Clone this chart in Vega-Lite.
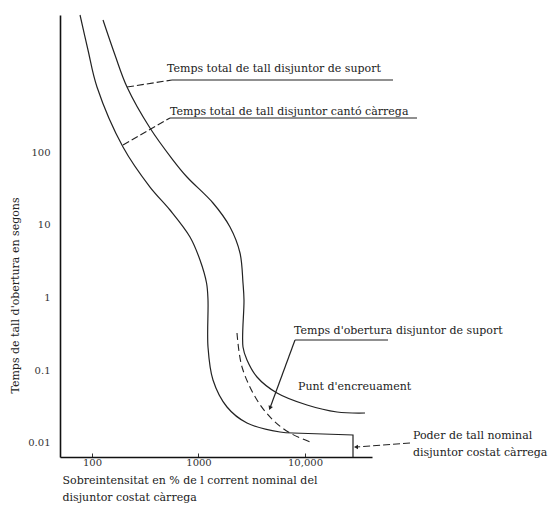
{
  "$schema": "https://vega.github.io/schema/vega-lite/v6.json",
  "width": 312,
  "height": 442,
  "autosize": {"type": "none"},
  "padding": {"left": 60, "top": 15, "right": 182, "bottom": 49},
  "background": "white",
  "config": {
    "view": {"stroke": null},
    "font": "DejaVu Serif",
    "axis": {"grid": false, "domainColor": "#111", "domainWidth": 1.6, "labelFont": "DejaVu Serif", "titleFont": "DejaVu Serif", "labelColor": "#333", "titleColor": "#222", "labelFontSize": 10, "titleFontSize": 11, "titleFontWeight": "normal"}
  },
  "datasets": {
    "curves": [
      {"series": "A", "i": 1, "x": 77.2, "y": 7642},
      {"series": "A", "i": 2, "x": 91.7, "y": 2524},
      {"series": "A", "i": 3, "x": 111.4, "y": 782.6},
      {"series": "A", "i": 4, "x": 195.5, "y": 117.1},
      {"series": "A", "i": 5, "x": 350.4, "y": 33.0},
      {"series": "A", "i": 6, "x": 540, "y": 15.95},
      {"series": "A", "i": 7, "x": 832, "y": 6.79},
      {"series": "A", "i": 8, "x": 1033, "y": 3.28},
      {"series": "A", "i": 9, "x": 1190, "y": 1.582},
      {"series": "A", "i": 10, "x": 1228, "y": 0.924},
      {"series": "A", "i": 11, "x": 1228, "y": 0.2088},
      {"series": "A", "i": 12, "x": 1368, "y": 0.0734},
      {"series": "A", "i": 13, "x": 1852, "y": 0.03125},
      {"series": "A", "i": 14, "x": 2853, "y": 0.01883},
      {"series": "A", "i": 15, "x": 5826, "y": 0.01416},
      {"series": "A", "i": 16, "x": 7716, "y": 0.01372},
      {"series": "A2", "i": 1, "x": 7716, "y": 0.01372},
      {"series": "A2", "i": 2, "x": 28230, "y": 0.01288},
      {"series": "A2", "i": 3, "x": 28230, "y": 0.00642},
      {"series": "B", "i": 1, "x": 126.9, "y": 6522},
      {"series": "B", "i": 2, "x": 164.4, "y": 2154},
      {"series": "B", "i": 3, "x": 213.2, "y": 782.6},
      {"series": "B", "i": 4, "x": 350.4, "y": 213.8},
      {"series": "B", "i": 5, "x": 576.2, "y": 77.6},
      {"series": "B", "i": 6, "x": 779.8, "y": 45.3},
      {"series": "B", "i": 7, "x": 1368, "y": 19.9},
      {"series": "B", "i": 8, "x": 1976, "y": 9.31},
      {"series": "B", "i": 9, "x": 2453, "y": 4.09},
      {"series": "B", "i": 10, "x": 2617, "y": 1.582},
      {"series": "B", "i": 11, "x": 2674, "y": 0.924},
      {"series": "B", "i": 12, "x": 2617, "y": 0.2088},
      {"series": "B", "i": 13, "x": 2853, "y": 0.1383},
      {"series": "B", "i": 14, "x": 3543, "y": 0.0808},
      {"series": "B", "i": 15, "x": 5459, "y": 0.0487},
      {"series": "B", "i": 16, "x": 10442, "y": 0.0333},
      {"series": "B", "i": 17, "x": 19980, "y": 0.02668},
      {"series": "B", "i": 18, "x": 36590, "y": 0.02585},
      {"series": "C", "i": 1, "x": 2299, "y": 0.325},
      {"series": "C", "i": 2, "x": 2562, "y": 0.1109},
      {"series": "C", "i": 3, "x": 3543, "y": 0.039},
      {"series": "C", "i": 4, "x": 5006, "y": 0.0207},
      {"series": "C", "i": 5, "x": 7233, "y": 0.01372},
      {"series": "C", "i": 6, "x": 11890, "y": 0.01},
      {"series": "L1d", "i": 1, "x": 213.2, "y": 782.6},
      {"series": "L1d", "i": 2, "x": 563.8, "y": 976.6},
      {"series": "L1u", "i": 1, "x": 563.8, "y": 976.6},
      {"series": "L1u", "i": 2, "x": 67050, "y": 976.6},
      {"series": "L2d", "i": 1, "x": 195.5, "y": 124.8},
      {"series": "L2d", "i": 2, "x": 540, "y": 293.4},
      {"series": "L2u", "i": 1, "x": 540, "y": 293.4},
      {"series": "L2u", "i": 2, "x": 112600, "y": 293.4},
      {"series": "L3u", "i": 1, "x": 8057, "y": 0.2605},
      {"series": "L3u", "i": 2, "x": 60170, "y": 0.2605},
      {"series": "L3l", "i": 1, "x": 8057, "y": 0.2605},
      {"series": "L3l", "i": 2, "x": 4692, "y": 0.03028},
      {"series": "L4", "i": 1, "x": 96800, "y": 0.01},
      {"series": "L4", "i": 2, "x": 30120, "y": 0.00881}
    ],
    "labels": [
      {"text": "Temps total de tall disjuntor de suport", "x": 506, "y": 1383},
      {"text": "Temps total de tall disjuntor cantó càrrega", "x": 540, "y": 354.6},
      {"text": "Temps d'obertura disjuntor de suport", "x": 7884, "y": 0.3463},
      {"text": "Punt d'encreuament", "x": 8598, "y": 0.05886},
      {"text": "Poder de tall nominal", "x": 103300, "y": 0.01248},
      {"text": "disjuntor costat càrrega", "x": 103300, "y": 0.00729}
    ],
    "arrowL3": [{"x": 4692, "y": 0.03028}],
    "arrowL4": [{"x": 30120, "y": 0.00881}]
  },
  "encoding": {
    "x": {"field": "x", "type": "quantitative", "scale": {"type": "log", "domain": [50.07, 42570], "nice": false},
      "axis": {"values": [100, 1000, 10000], "labelExpr": "datum.value == 10000 ? '10,000' : datum.value + ''", "tickSize": -4, "tickColor": "#333", "tickWidth": 1, "labelPadding": 4,
        "title": ["Sobreintensitat en % de l corrent nominal del", "disjuntor costat càrrega"], "titleAnchor": "start", "titleAlign": "left", "titleX": 2, "titleY": 17, "titleBaseline": "top", "titleLineHeight": 17}},
    "y": {"field": "y", "type": "quantitative", "scale": {"type": "log", "domain": [0.00642, 7642], "nice": false},
      "axis": {"values": [0.01, 0.1, 1, 10, 100], "labelExpr": "datum.value + ''", "tickSize": 0, "labelPadding": 10,
        "title": "Temps de tall d'obertura en segons", "titleX": -45, "titleY": 280, "titleBaseline": "middle", "titleAngle": 270}}
  },
  "layer": [
    {"data": {"name": "curves"}, "transform": [{"filter": "datum.series == 'A' || datum.series == 'B'"}],
      "mark": {"type": "line", "interpolate": "catmull-rom", "color": "#222", "strokeWidth": 1.2},
      "encoding": {"detail": {"field": "series"}, "order": {"field": "i"}}},
    {"data": {"name": "curves"}, "transform": [{"filter": "datum.series == 'C'"}],
      "mark": {"type": "line", "interpolate": "catmull-rom", "color": "#222", "strokeWidth": 1.1, "strokeDash": [7, 4]},
      "encoding": {"order": {"field": "i"}}},
    {"data": {"name": "curves"}, "transform": [{"filter": "indexof(['A2','L1u','L2u','L3u','L3l'], datum.series) >= 0"}],
      "mark": {"type": "line", "color": "#222", "strokeWidth": 1.2},
      "encoding": {"detail": {"field": "series"}, "order": {"field": "i"}}},
    {"data": {"name": "curves"}, "transform": [{"filter": "indexof(['L1d','L2d','L4'], datum.series) >= 0"}],
      "mark": {"type": "line", "color": "#222", "strokeWidth": 1.1, "strokeDash": [7, 3]},
      "encoding": {"detail": {"field": "series"}, "order": {"field": "i"}}},
    {"data": {"name": "arrowL3"}, "mark": {"type": "point", "shape": "triangle-down", "filled": true, "color": "#222", "size": 22, "angle": 22, "opacity": 1}},
    {"data": {"name": "arrowL4"}, "mark": {"type": "point", "shape": "triangle-left", "filled": true, "color": "#222", "size": 22, "opacity": 1}},
    {"data": {"name": "labels"}, "mark": {"type": "text", "align": "left", "baseline": "middle", "font": "DejaVu Serif", "fontSize": 11, "color": "#222"},
      "encoding": {"text": {"field": "text"}}}
  ]
}
